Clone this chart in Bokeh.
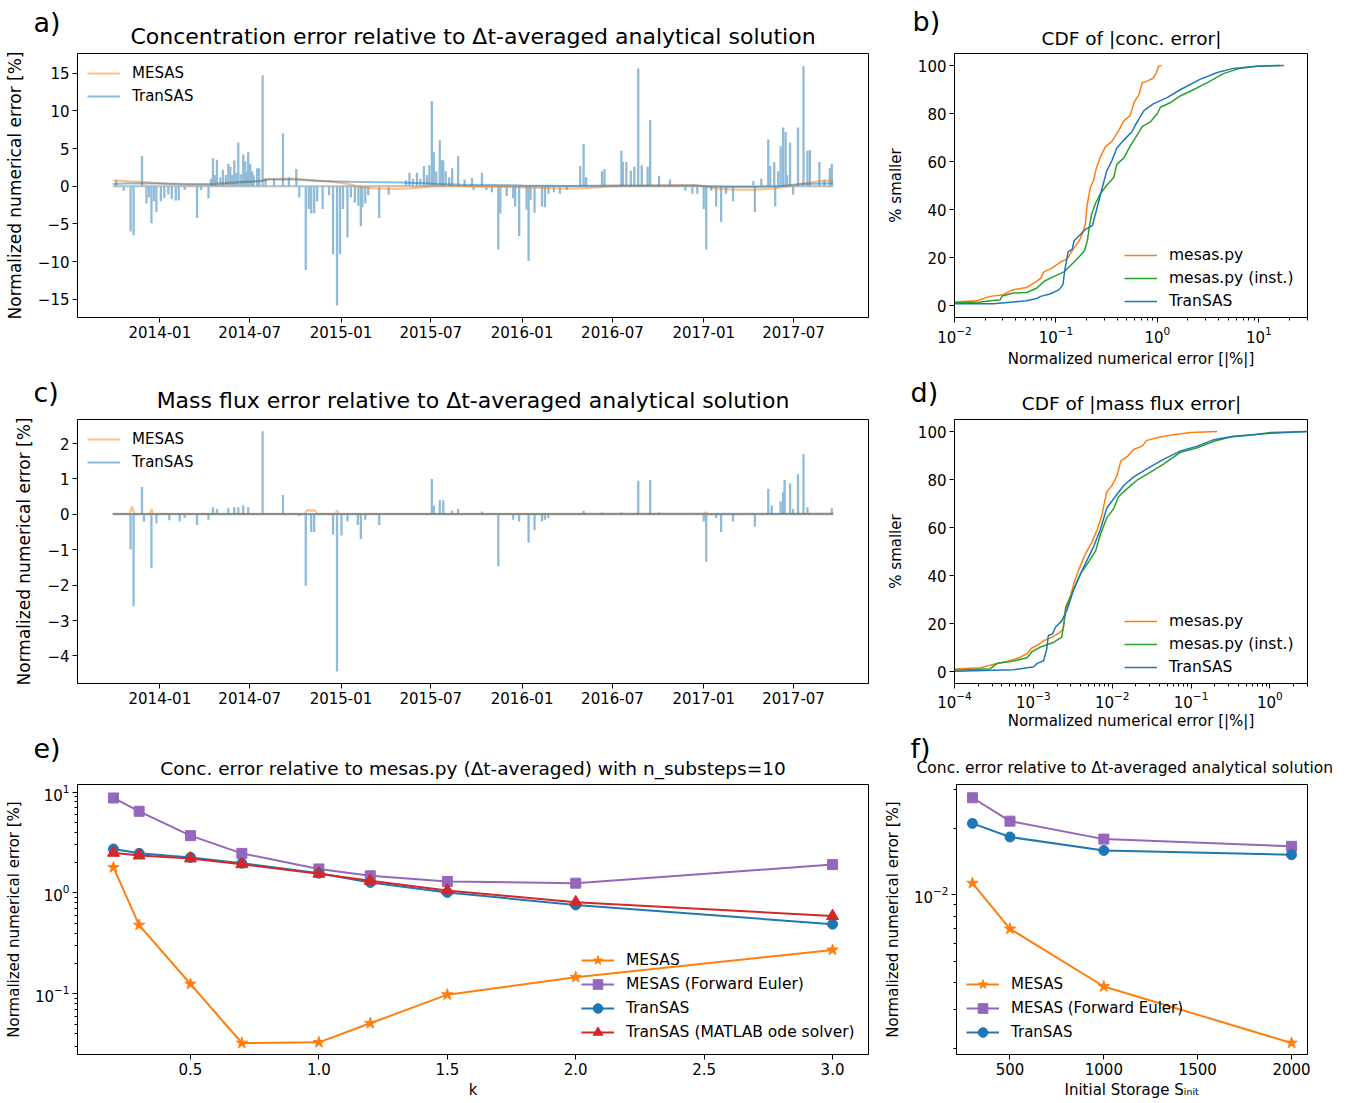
import pandas as pd
from bokeh.plotting import figure
from bokeh.layouts import column, row
from bokeh.models import (Range1d, FixedTicker, DatetimeTickFormatter, CustomJSTickFormatter,
                          Legend, LegendItem, Label)
from bokeh.embed import file_html
from bokeh.resources import INLINE

FONT = "DejaVu Sans"
C_OR = "#ff7f0e"; C_BL = "#1f77b4"; C_GR = "#2ca02c"; C_RD = "#d62728"; C_PU = "#9467bd"
C_BL_LIGHT = "#8fbbd9"

# ---------------- data: panel a (concentration error time series) ----------------
span_dates = ["2013-09-28", "2017-09-19"]
span_vals = [0.0, 0.0]

mesas_a_dates = ["2013-09-28", "2013-10-20", "2013-11-20", "2013-12-20", "2014-01-20", "2014-02-20",
                 "2014-03-20", "2014-04-20", "2014-05-20", "2014-06-20", "2014-07-20", "2014-08-05",
                 "2014-09-01", "2014-10-01", "2014-10-20", "2014-11-15", "2014-12-15", "2015-01-15",
                 "2015-02-10", "2015-03-10", "2015-04-15", "2015-05-20", "2015-06-20", "2015-07-20",
                 "2015-09-01", "2015-10-15", "2015-12-01", "2016-01-15", "2016-03-01", "2016-04-15",
                 "2016-05-20", "2016-07-01", "2016-08-15", "2016-10-01", "2016-12-15", "2017-01-05",
                 "2017-02-01", "2017-03-01", "2017-04-15", "2017-05-20", "2017-06-20", "2017-07-10",
                 "2017-08-01", "2017-08-25", "2017-09-19"]
mesas_a_vals = [0.75, 0.7, 0.6, 0.45, 0.3, 0.2, 0.15, 0.15, 0.35, 0.55, 0.7, 0.95, 1.0, 1.0, 0.9,
                0.75, 0.6, 0.3, -0.1, -0.3, -0.35, -0.3, -0.1, 0.1, 0.05, -0.05, -0.1, -0.15, -0.25,
                -0.3, -0.2, 0.0, 0.05, 0.1, 0.15, -0.1, -0.35, -0.45, -0.45, -0.3, -0.05, 0.2, 0.5,
                0.7, 0.75]

transas_a_base_dates = ["2013-09-28", "2013-11-01", "2014-01-01", "2014-03-01", "2014-04-15",
                        "2014-06-01", "2014-07-25", "2014-08-05", "2014-10-01", "2014-11-15",
                        "2014-12-15", "2015-01-20", "2015-03-01", "2015-05-01", "2015-06-15",
                        "2015-07-20", "2015-09-01", "2015-11-01", "2016-01-01", "2016-04-01",
                        "2016-07-01", "2016-10-01", "2016-12-20", "2017-01-10", "2017-02-15",
                        "2017-04-15", "2017-06-01", "2017-07-15", "2017-09-19"]
transas_a_base_vals = [0.3, 0.4, 0.35, 0.3, 0.3, 0.5, 0.7, 0.9, 0.9, 0.7, 0.65, 0.6, 0.55, 0.5,
                       0.4, 0.3, 0.2, 0.15, 0.1, 0.05, 0.1, 0.1, 0.1, 0.0, -0.1, -0.1, 0.0, 0.3, 0.4]

spike_a_dates = ["2013-10-05", "2013-10-20", "2013-11-03", "2013-11-09", "2013-11-26", "2013-12-05",
                 "2013-12-10", "2013-12-15", "2013-12-20", "2013-12-25", "2014-01-03", "2014-01-10",
                 "2014-01-18", "2014-01-25", "2014-02-02", "2014-02-08", "2014-02-20", "2014-03-17",
                 "2014-03-25", "2014-04-09", "2014-04-14", "2014-04-18", "2014-04-22", "2014-04-26",
                 "2014-05-03", "2014-05-08", "2014-05-14", "2014-05-19", "2014-05-23", "2014-05-27",
                 "2014-05-31", "2014-06-04", "2014-06-08", "2014-06-13", "2014-06-18", "2014-06-22",
                 "2014-06-25", "2014-06-28", "2014-07-02", "2014-07-06", "2014-07-09", "2014-07-16",
                 "2014-07-20", "2014-07-27", "2014-08-02", "2014-08-19", "2014-09-06", "2014-09-18",
                 "2014-10-03", "2014-10-09", "2014-10-22", "2014-10-28", "2014-11-02", "2014-11-08",
                 "2014-11-14", "2014-11-25", "2014-12-08", "2014-12-16", "2014-12-24", "2014-12-30",
                 "2015-01-05", "2015-01-14", "2015-01-21", "2015-01-29", "2015-02-05", "2015-02-10",
                 "2015-02-13", "2015-02-19", "2015-02-25", "2015-03-19", "2015-04-07", "2015-05-12",
                 "2015-05-19", "2015-05-26", "2015-06-03", "2015-06-10", "2015-06-17", "2015-06-23",
                 "2015-06-28", "2015-07-03", "2015-07-07", "2015-07-12", "2015-07-19", "2015-07-23",
                 "2015-07-26", "2015-07-31", "2015-08-07", "2015-08-13", "2015-08-25", "2015-09-07",
                 "2015-09-22", "2015-09-25", "2015-10-12", "2015-10-21", "2015-11-01", "2015-11-14",
                 "2015-11-18", "2015-12-01", "2015-12-14", "2015-12-18", "2015-12-26", "2016-01-10",
                 "2016-01-14", "2016-01-18", "2016-01-26", "2016-02-10", "2016-02-16", "2016-02-23",
                 "2016-03-05", "2016-03-17", "2016-03-31", "2016-04-27", "2016-05-04", "2016-05-09",
                 "2016-06-10", "2016-06-15", "2016-07-19", "2016-07-22", "2016-07-29", "2016-08-07",
                 "2016-08-14", "2016-08-22", "2016-08-29", "2016-09-10", "2016-09-15", "2016-10-03",
                 "2016-10-25", "2016-11-25", "2016-12-09", "2016-12-19", "2017-01-01", "2017-01-06",
                 "2017-01-16", "2017-01-26", "2017-02-05", "2017-02-15", "2017-03-01", "2017-04-11",
                 "2017-04-14", "2017-04-27", "2017-05-11", "2017-05-15", "2017-05-23", "2017-05-25",
                 "2017-05-31", "2017-06-05", "2017-06-10", "2017-06-15", "2017-06-18", "2017-06-24",
                 "2017-06-30", "2017-07-10", "2017-07-21", "2017-07-29", "2017-08-03", "2017-08-22",
                 "2017-09-01", "2017-09-12", "2017-09-16"]
spike_a_vals = [0.8, -0.6, -6.0, -6.5, 4.0, -2.3, -1.5, -4.9, -2.0, -3.4, -2.0, -1.6, -1.1, -1.7,
                -1.9, -1.9, -0.5, -4.2, -0.5, -1.6, 1.0, 3.7, 1.5, 3.5, 1.2, 2.2, 1.5, 3.0, 2.6, 1.5,
                3.4, 1.8, 5.8, 1.6, 4.2, 3.3, 2.0, 4.5, 3.0, 2.0, 1.5, 2.4, 2.4, 14.7, 1.0, 1.0, 7.0,
                1.2, 2.3, -1.5, -11.1, -3.0, -3.6, -3.6, -2.0, -3.0, -1.2, -9.0, -15.8, -9.0, -3.0,
                -6.8, -1.5, -2.2, -2.6, -5.3, -2.8, -2.3, -1.2, -4.2, -1.1, 0.8, 1.8, 1.0, 1.8, 1.0,
                2.7, 1.5, 2.8, 11.3, 4.5, 2.0, 6.1, 3.5, 3.4, 2.0, 1.2, 2.4, 4.0, 0.9, 1.1, -0.5, 1.8,
                -0.5, -0.8, -8.4, -3.6, -1.3, -1.6, -2.7, -6.6, -3.1, -9.9, -1.8, -3.5, -2.7, -2.8,
                -1.0, -0.8, -1.0, -0.5, 2.7, 5.6, 1.2, 2.0, 2.3, 4.7, 3.2, 3.2, 2.1, 2.6, 15.6, 2.8,
                2.6, 8.8, 1.4, 0.9, -0.6, -1.0, -1.0, -3.0, -8.4, -0.6, -2.7, -4.7, -1.0, -2.0, 0.7,
                -3.4, 1.0, 6.2, 2.7, 3.2, -2.7, 2.0, 5.3, 7.8, 7.2, 1.5, 5.8, -1.1, 7.8, 15.9, 4.7,
                4.8, 3.2, 0.9, 2.4, 3.0]

# ---------------- data: panel c (mass flux error time series) ----------------
mesas_c_dates = ["2013-09-28", "2013-11-01", "2013-11-06", "2013-11-10", "2013-12-12", "2013-12-15",
                 "2013-12-18", "2014-10-20", "2014-10-25", "2014-11-01", "2014-11-08", "2014-11-14",
                 "2014-12-20", "2014-12-24", "2014-12-28", "2017-01-02", "2017-01-05", "2017-01-09",
                 "2017-09-19"]
mesas_c_vals = [0.02, 0.02, 0.22, 0.02, 0.02, 0.15, 0.02, 0.02, 0.12, 0.1, 0.12, 0.02, 0.02, 0.1,
                0.02, 0.02, 0.06, 0.0, 0.02]

transas_c_base_dates = ["2013-09-28", "2015-06-01", "2017-09-19"]
transas_c_base_vals = [0.01, 0.01, 0.02]

spike_c_dates = ["2013-11-03", "2013-11-09", "2013-11-26", "2013-11-30", "2013-12-15", "2013-12-25",
                 "2014-01-20", "2014-02-10", "2014-02-20", "2014-03-17", "2014-04-09", "2014-04-18",
                 "2014-04-26", "2014-05-19", "2014-05-31", "2014-06-08", "2014-06-18", "2014-06-28",
                 "2014-07-27", "2014-09-06", "2014-10-09", "2014-10-22", "2014-11-02", "2014-11-08",
                 "2014-12-16", "2014-12-24", "2015-01-02", "2015-01-14", "2015-02-04", "2015-02-10",
                 "2015-02-19", "2015-03-19", "2015-07-03", "2015-07-07", "2015-07-19", "2015-07-26",
                 "2015-08-13", "2015-08-25", "2015-10-12", "2015-11-14", "2015-12-14", "2015-12-26",
                 "2016-01-14", "2016-01-26", "2016-02-10", "2016-02-16", "2016-02-23", "2016-05-04",
                 "2016-06-10", "2016-07-19", "2016-08-22", "2016-09-15", "2016-10-03", "2017-01-01",
                 "2017-01-06", "2017-01-26", "2017-02-05", "2017-03-01", "2017-04-14", "2017-05-11",
                 "2017-05-18", "2017-06-05", "2017-06-10", "2017-06-13", "2017-06-24", "2017-06-30",
                 "2017-07-10", "2017-07-21", "2017-07-29", "2017-09-16"]
spike_c_vals = [-0.99, -2.6, 0.77, -0.2, -1.52, -0.25, -0.17, -0.2, -0.1, -0.3, -0.15, 0.2, 0.15,
                0.17, 0.2, 0.2, 0.25, 0.2, 2.35, 0.55, -0.05, -2.02, -0.5, -0.5, -0.57, -4.44, -0.6,
                -0.2, -0.3, -0.7, -0.15, -0.3, 1.0, 0.25, 0.4, 0.4, 0.1, 0.15, 0.08, -1.47, -0.15,
                -0.2, -0.8, -0.45, -0.2, -0.15, -0.1, 0.1, 0.05, 0.05, 0.95, 0.97, 0.05, -0.2, -1.34,
                -0.1, -0.5, -0.2, -0.35, 0.72, 0.25, 0.37, 0.64, 0.97, 0.87, 0.15, 1.13, 1.71, 0.2,
                0.18]

time_tick_labels = ["2014-01", "2014-07", "2015-01", "2015-07", "2016-01", "2016-07", "2017-01", "2017-07"]
conc_yticks = [-15, -10, -5, 0, 5, 10, 15]
flux_yticks = [-4, -3, -2, -1, 0, 1, 2]

# ---------------- data: panel b (CDF of |conc. error|) ----------------
cdf_b_mesas_x = [0.0100, 0.0166, 0.0224, 0.0302, 0.0372, 0.0513, 0.0603, 0.0708, 0.0759, 0.0912,
                 0.110, 0.129, 0.148, 0.170, 0.186, 0.195, 0.204, 0.219, 0.234, 0.251, 0.275, 0.309,
                 0.355, 0.417, 0.468, 0.537, 0.589, 0.661, 0.708, 0.794, 0.912, 0.977, 1.023, 1.096]
cdf_b_mesas_y = [1.5, 2.0, 3.8, 4.5, 6.5, 7.5, 9.2, 11.3, 14.0, 15.6, 18.0, 19.4, 23.5, 27.0, 31.0,
                 34.0, 42.5, 49.3, 52.0, 57.5, 62.0, 66.3, 68.3, 73.0, 77.0, 79.0, 84.6, 88.0, 92.8,
                 93.5, 94.8, 96.9, 99.6, 100.0]
cdf_b_inst_x = [0.0100, 0.0178, 0.0282, 0.0295, 0.0380, 0.0513, 0.0646, 0.0759, 0.0871, 0.120, 0.145,
                0.174, 0.191, 0.204, 0.214, 0.224, 0.245, 0.275, 0.316, 0.372, 0.398, 0.468, 0.537,
                0.631, 0.708, 0.851, 1.000, 1.072, 1.349, 1.698, 2.291, 3.311, 4.467, 6.607, 9.550,
                17.78]
cdf_b_inst_y = [1.1, 1.5, 2.4, 4.0, 5.2, 5.4, 7.2, 10.0, 11.3, 14.0, 17.4, 20.8, 22.8, 27.0, 33.0,
                37.8, 42.5, 46.6, 50.0, 53.4, 58.8, 61.5, 66.3, 71.0, 74.5, 76.5, 80.0, 82.6, 84.6,
                87.4, 90.0, 93.5, 96.6, 98.9, 99.7, 100.0]
cdf_b_transas_x = [0.0100, 0.0240, 0.0380, 0.0513, 0.0646, 0.0708, 0.0871, 0.107, 0.117, 0.123,
                   0.132, 0.145, 0.151, 0.174, 0.195, 0.229, 0.251, 0.282, 0.316, 0.355, 0.398, 0.468,
                   0.562, 0.603, 0.661, 0.741, 0.912, 1.259, 1.698, 2.630, 3.890, 5.623, 9.550, 16.22]
cdf_b_transas_y = [0.7, 0.7, 1.5, 2.0, 2.9, 3.8, 4.8, 6.5, 8.6, 15.4, 22.4, 23.5, 27.0, 29.6, 31.7,
                   33.3, 39.8, 48.0, 56.0, 60.2, 65.6, 69.0, 72.4, 75.0, 77.9, 81.3, 84.0, 86.7, 90.0,
                   94.2, 97.1, 98.8, 99.7, 100.0]

# ---------------- data: panel d (CDF of |mass flux error|) ----------------
cdf_d_mesas_x = [1.00e-4, 2.14e-4, 3.16e-4, 4.57e-4, 6.76e-4, 8.32e-4, 9.55e-4, 1.12e-3, 1.35e-3,
                 1.74e-3, 2.09e-3, 2.40e-3, 2.57e-3, 2.95e-3, 3.31e-3, 3.89e-3, 4.57e-3, 5.50e-3,
                 6.46e-3, 7.41e-3, 8.51e-3, 1.00e-2, 1.15e-2, 1.29e-2, 1.55e-2, 1.86e-2, 2.40e-2,
                 2.75e-2, 4.07e-2, 6.03e-2, 9.77e-2, 0.214]
cdf_d_mesas_y = [1.0, 1.6, 3.0, 4.1, 5.9, 7.5, 9.8, 10.9, 12.8, 14.3, 15.9, 17.7, 27.2, 31.3, 37.4,
                 43.5, 49.0, 53.7, 59.2, 65.3, 74.8, 77.6, 81.6, 87.8, 89.5, 92.5, 93.9, 96.3, 97.7,
                 98.6, 99.6, 100.0]
cdf_d_inst_x = [1.00e-4, 2.82e-4, 3.47e-4, 5.62e-4, 8.32e-4, 9.55e-4, 1.23e-3, 1.82e-3, 2.29e-3,
                2.45e-3, 2.57e-3, 3.09e-3, 3.98e-3, 5.01e-3, 6.17e-3, 7.08e-3, 8.51e-3, 1.05e-2,
                1.20e-2, 1.55e-2, 2.04e-2, 3.02e-2, 4.47e-2, 7.24e-2, 0.120, 0.195, 0.316, 0.631,
                1.023, 3.02]
cdf_d_inst_y = [0.5, 1.1, 3.4, 4.4, 5.7, 8.2, 10.2, 12.2, 14.3, 20.4, 25.9, 32.7, 40.8, 45.6, 50.3,
                57.1, 63.9, 68.0, 72.8, 76.2, 79.6, 83.0, 86.4, 91.2, 93.2, 95.9, 97.7, 98.6, 99.6,
                100.0]
cdf_d_transas_x = [1.00e-4, 5.62e-4, 8.32e-4, 1.00e-3, 1.12e-3, 1.35e-3, 1.48e-3, 1.55e-3, 1.74e-3,
                   1.91e-3, 2.29e-3, 2.69e-3, 3.24e-3, 3.98e-3, 4.79e-3, 5.75e-3, 7.08e-3, 8.51e-3,
                   1.05e-2, 1.41e-2, 1.86e-2, 2.75e-2, 4.47e-2, 7.24e-2, 0.120, 0.195, 0.347, 1.023,
                   3.02]
cdf_d_transas_y = [0.1, 0.7, 1.6, 1.9, 3.4, 4.5, 9.5, 15.0, 15.6, 18.4, 21.1, 25.9, 34.0, 40.8,
                   46.3, 51.7, 59.2, 68.0, 72.1, 77.6, 81.0, 84.4, 88.4, 91.8, 93.9, 96.6, 98.0,
                   99.3, 100.0]
cdf_yticks = [0, 20, 40, 60, 80, 100]

# ---------------- data: panel e (error vs k) ----------------
k_vals = [0.2, 0.3, 0.5, 0.7, 1.0, 1.2, 1.5, 2.0, 3.0]
e_mesas = [1.79, 0.48, 0.125, 0.0325, 0.033, 0.051, 0.098, 0.146, 0.272]
e_mesas_fe = [8.75, 6.45, 3.7, 2.47, 1.73, 1.48, 1.30, 1.25, 1.91]
e_transas = [2.73, 2.47, 2.25, 1.97, 1.57, 1.27, 1.01, 0.76, 0.49]
e_transas_ml = [2.5, 2.35, 2.2, 1.93, 1.55, 1.32, 1.06, 0.81, 0.59]
k_ticks = [0.5, 1.0, 1.5, 2.0, 2.5, 3.0]

# ---------------- data: panel f (error vs initial storage) ----------------
s_init = [300, 500, 1000, 2000]
f_mesas = [0.01129, 0.0070, 0.00383, 0.00212]
f_mesas_fe = [0.0276, 0.0216, 0.0179, 0.0166]
f_transas = [0.0211, 0.0183, 0.0159, 0.0152]
s_ticks = [500, 1000, 1500, 2000]

# ---------------- texts ----------------
title_a = "Concentration error relative to \u0394t-averaged analytical solution"
title_b = "CDF of |conc. error|"
title_c = "Mass flux error relative to \u0394t-averaged analytical solution"
title_d = "CDF of |mass flux error|"
title_e = "Conc. error relative to mesas.py (\u0394t-averaged) with n_substeps=10"
title_f = "Conc. error relative to \u0394t-averaged analytical solution"

W_L, W_R = 880, 466


# ---------------- helpers ----------------
def base_fig(width, height, left, right, top, bottom, **kw):
    p = figure(width=width, height=height, output_backend="svg", toolbar_location=None,
               min_border_left=left, min_border_right=right,
               min_border_top=top, min_border_bottom=bottom,
               background_fill_color="white", border_fill_color="white", **kw)
    p.outline_line_color = "black"
    p.outline_line_width = 1
    p.outline_line_alpha = 1
    p.grid.visible = False
    for ax in p.axis:
        ax.axis_line_color = "black"
        ax.major_tick_in = 0
        ax.major_tick_out = 5
        ax.minor_tick_in = 0
        ax.minor_tick_out = 3
        ax.major_tick_line_color = "black"
        ax.minor_tick_line_color = "black"
        ax.major_label_text_font = FONT
        ax.major_label_text_font_size = "15px"
        ax.major_label_text_color = "black"
        ax.axis_label_text_font = FONT
        ax.axis_label_text_font_style = "normal"
        ax.axis_label_text_color = "black"
        ax.axis_label_text_font_size = "15px"
        ax.major_label_standoff = 3
        ax.axis_label_standoff = 3
    return p


def header(x0, y0, w, h, texts):
    # a strip above a row of plots that carries the panel letters and titles
    p = figure(width=w, height=h, output_backend="svg", toolbar_location=None, title=None,
               x_range=Range1d(x0, x0 + w), y_range=Range1d(y0 + h, y0),
               x_axis_location=None, y_axis_location=None,
               min_border=0, min_border_left=0, min_border_right=0,
               min_border_top=0, min_border_bottom=0,
               outline_line_color=None, background_fill_color="white", border_fill_color="white")
    p.grid.visible = False
    for (x, y, t, size, align) in texts:
        p.add_layout(Label(x=x, y=y, text=t, text_font=FONT, text_font_size=size,
                           text_align=align, text_baseline="middle", text_color="black"))
    return p


def no_minor(axis):
    axis.minor_tick_line_color = None


def legend(p, items, loc, padding, glyph_h, spacing, fs="15px"):
    lg = Legend(items=items, location=loc, margin=0, padding=padding, spacing=spacing,
                glyph_width=33, glyph_height=glyph_h, label_height=glyph_h, label_standoff=12,
                label_text_font=FONT, label_text_font_size=fs, label_text_color="black",
                background_fill_alpha=0, border_line_alpha=0)
    p.add_layout(lg)


minus_fmt = "return (tick < 0 ? '\u2212' : '') + Math.abs(tick);"
time_ticks = [pd.Timestamp(s + "-01").value / 1e6 for s in time_tick_labels]


def time_panel(mesas_d, mesas_v, base_d, base_v, sp_d, sp_v, yr, yticks, height, bottom):
    p = base_fig(W_L, height, 77, 12, 3, bottom, x_axis_type="datetime",
                 x_range=Range1d(pd.Timestamp("2013-07-19"), pd.Timestamp("2017-11-29")),
                 y_range=Range1d(*yr))
    p.xaxis.ticker = FixedTicker(ticks=time_ticks)
    p.xaxis.formatter = DatetimeTickFormatter(days="%Y-%m", months="%Y-%m", years="%Y-%m")
    p.yaxis.ticker = FixedTicker(ticks=yticks)
    p.yaxis.formatter = CustomJSTickFormatter(code=minus_fmt)
    p.yaxis.axis_label = "Normalized numerical error [%]"
    p.yaxis.axis_label_text_font_size = "17px"
    p.yaxis.axis_label_standoff = 10
    no_minor(p.xaxis)
    no_minor(p.yaxis)
    p.line(pd.to_datetime(span_dates), span_vals, color="#bdbdbd", line_width=2)
    sd = pd.to_datetime(sp_d)
    p.segment(x0=sd, y0=0, x1=sd, y1=sp_v, color=C_BL_LIGHT, line_width=2.3)
    r_m = p.line(pd.to_datetime(mesas_d), mesas_v, color=C_OR, alpha=0.5, line_width=2)
    r_t = p.line(pd.to_datetime(base_d), base_v, color=C_BL, alpha=0.5, line_width=2)
    legend(p, [LegendItem(label="MESAS", renderers=[r_m]), LegendItem(label="TranSAS", renderers=[r_t])],
           "top_left", 10, 20, 3)
    return p


def cdf_panel(xr, xticks, xminor, series, height, bottom, tick_so, label_so):
    p = base_fig(W_R, height, 74, W_R - 74 - 353, 3, bottom, x_axis_type="log",
                 x_range=Range1d(*xr), y_range=Range1d(-5, 105))
    p.xaxis.ticker = FixedTicker(ticks=xticks, minor_ticks=xminor)
    p.yaxis.ticker = FixedTicker(ticks=cdf_yticks)
    no_minor(p.yaxis)
    p.xaxis.axis_label = "Normalized numerical error [|%|]"
    p.xaxis.major_label_standoff = tick_so
    p.xaxis.axis_label_standoff = label_so
    p.yaxis.axis_label = "% smaller"
    p.yaxis.axis_label_standoff = 10
    items = []
    for name, xs, ys, col in series:
        r = p.line(xs, ys, color=col, line_width=1.5)
        items.append(LegendItem(label=name, renderers=[r]))
    # legend box: bottom-left corner given in pixels from the frame's bottom-left corner
    legend(p, items, (164, 0), 6, 20, 3, "15.5px")
    return p


# ---------------- row 1 (page y 0-370) ----------------
ha = header(0, 0, W_L, 50, [(33, 22.0, "a)", "27px", "left"),
                            (472.5, 36.4, title_a, "22px", "center")])
hb = header(W_L, 0, W_R, 50, [(912, 21.0, "b)", "27px", "left"),
                              (1131, 37.6, title_b, "18.5px", "center")])
pa = time_panel(mesas_a_dates, mesas_a_vals, transas_a_base_dates, transas_a_base_vals,
                spike_a_dates, spike_a_vals, (-17.4, 17.6), conc_yticks, 320, 47)
b_minor = [m * 10.0 ** e for e in range(-3, 2) for m in range(2, 10)]
pb = cdf_panel((0.01, 30.2), [0.01, 0.1, 1, 10], b_minor,
               [("mesas.py", cdf_b_mesas_x, cdf_b_mesas_y, C_OR),
                ("mesas.py (inst.)", cdf_b_inst_x, cdf_b_inst_y, C_GR),
                ("TranSAS", cdf_b_transas_x, cdf_b_transas_y, C_BL)], 320, 47, 3, 4)

# ---------------- row 2 (page y 370-732) ----------------
hc = header(0, 370, W_L, 46, [(33, 392.0, "c)", "27px", "left"),
                              (472.5, 400.4, title_c, "22px", "center")])
hd = header(W_L, 370, W_R, 46, [(910, 392.0, "d)", "27px", "left"),
                                (1131, 403.3, title_d, "18.5px", "center")])
pc = time_panel(mesas_c_dates, mesas_c_vals, transas_c_base_dates, transas_c_base_vals,
                spike_c_dates, spike_c_vals, (-4.78, 2.68), flux_yticks, 316, 43)
d_minor = [m * 10.0 ** e for e in range(-5, 1) for m in range(2, 10)]
pdd = cdf_panel((1e-4, 3.0), [1e-4, 1e-3, 1e-2, 1e-1, 1], d_minor,
                [("mesas.py", cdf_d_mesas_x, cdf_d_mesas_y, C_OR),
                 ("mesas.py (inst.)", cdf_d_inst_x, cdf_d_inst_y, C_GR),
                 ("TranSAS", cdf_d_transas_x, cdf_d_transas_y, C_BL)], 316, 43, 2, 1)

# ---------------- row 3 (page y 732-1101) ----------------
he = header(0, 732, W_L, 49, [(33, 748.0, "e)", "27px", "left"),
                              (472.5, 767.6, title_e, "18.5px", "center")])
hf = header(W_L, 732, W_R, 49, [(910, 748.0, "f)", "27px", "left"),
                                (916, 767.9, title_f, "15.5px", "left")])

pe = base_fig(W_L, 320, 77, 12, 3, 47, y_axis_type="log",
              x_range=Range1d(0.06, 3.14), y_range=Range1d(0.025, 11.9))
pe.xaxis.ticker = FixedTicker(ticks=k_ticks)
pe.xaxis.formatter = CustomJSTickFormatter(code="return tick.toFixed(1);")
no_minor(pe.xaxis)
e_minor = [m * 10.0 ** e for e in range(-2, 1) for m in range(2, 10)]
pe.yaxis.ticker = FixedTicker(ticks=[0.1, 1, 10], minor_ticks=e_minor)
pe.xaxis.axis_label = "k"
pe.yaxis.axis_label = "Normalized numerical error [%]"
pe.yaxis.axis_label_standoff = 9
e_items = []
for name, ys, col, mk, sz in [("MESAS", e_mesas, C_OR, "star", 12),
                              ("MESAS (Forward Euler)", e_mesas_fe, C_PU, "square", 10),
                              ("TranSAS", e_transas, C_BL, "circle", 10),
                              ("TranSAS (MATLAB ode solver)", e_transas_ml, C_RD, "triangle", 12)]:
    rl = pe.line(k_vals, ys, color=col, line_width=2)
    rs = pe.scatter(k_vals, ys, marker=mk, size=sz, color=col)
    e_items.append(LegendItem(label=name, renderers=[rl, rs]))
legend(pe, e_items, (494, 0), 10, 24, -1, "15.5px")

pf = base_fig(W_R, 320, 74, W_R - 74 - 353, 3, 47, y_axis_type="log",
              x_range=Range1d(215, 2085), y_range=Range1d(0.00188, 0.0317))
pf.xaxis.ticker = FixedTicker(ticks=s_ticks)
no_minor(pf.xaxis)
f_minor = [0.002, 0.003, 0.004, 0.005, 0.006, 0.007, 0.008, 0.009, 0.02, 0.03]
pf.yaxis.ticker = FixedTicker(ticks=[0.01], minor_ticks=f_minor)
pf.xaxis.axis_label = "Initial Storage S\u1d62\u2099\u1d62\u209c"
pf.yaxis.axis_label = "Normalized numerical error [%]"
pf.yaxis.axis_label_standoff = 9
f_items = []
for name, ys, col, mk, sz in [("MESAS", f_mesas, C_OR, "star", 12),
                              ("MESAS (Forward Euler)", f_mesas_fe, C_PU, "square", 10),
                              ("TranSAS", f_transas, C_BL, "circle", 10)]:
    rl = pf.line(s_init, ys, color=col, line_width=2)
    rs = pf.scatter(s_init, ys, marker=mk, size=sz, color=col)
    f_items.append(LegendItem(label=name, renderers=[rl, rs]))
legend(pf, f_items, "bottom_left", 10, 24, -1)

layout = column(row(ha, hb), row(pa, pb), row(hc, hd), row(pc, pdd), row(he, hf), row(pe, pf))
open("out.html", "w", encoding="utf-8").write(file_html(layout, INLINE, title="errors"))
